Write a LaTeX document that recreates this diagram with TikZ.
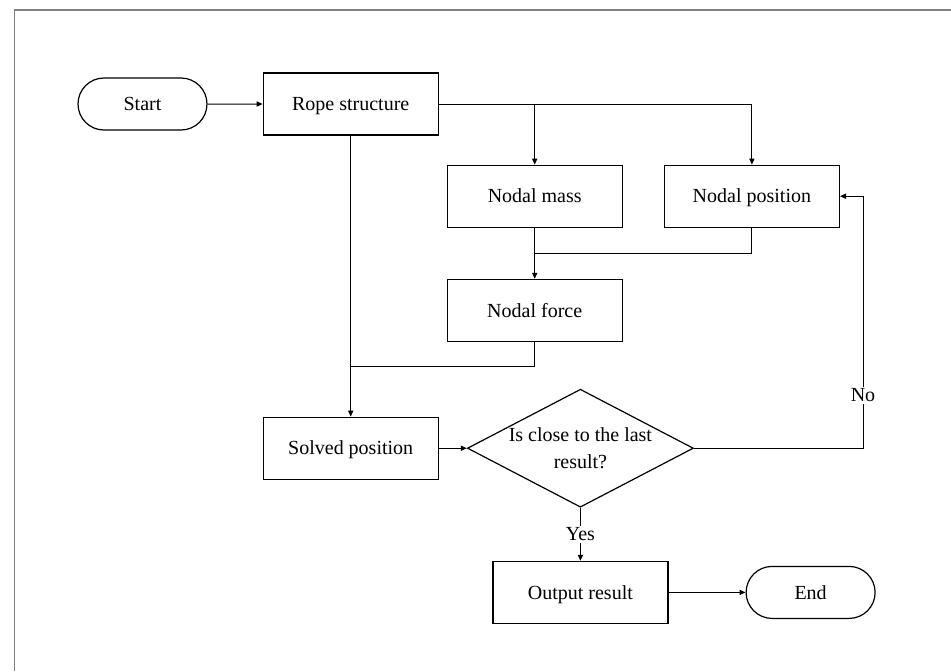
\documentclass[tikz,border=0pt]{standalone}
\usepackage{fontspec}
\setmainfont{Liberation Serif}
\usepackage{tikz}
\usetikzlibrary{arrows.meta, positioning, shapes.geometric, shapes.misc, calc}

\begin{document}
\begin{tikzpicture}[
  node distance=14pt and 20pt,
  proc/.style={draw, line width=0.6pt, minimum width=87.5pt, minimum height=31pt, inner sep=0pt, text height=8.6pt, text depth=2pt},
  term/.style={draw, line width=0.6pt, rounded rectangle, minimum width=64.5pt, minimum height=26pt, inner sep=0pt, text height=8.6pt, text depth=2pt},
  decide/.style={draw, line width=0.6pt, diamond, minimum width=113pt, minimum height=59pt, inner sep=0pt},
  flow/.style={line width=0.5pt},
  >={Triangle[length=3pt, width=2.6pt]}
]
\useasboundingbox (-71.25pt,52pt) rectangle (404.25pt,-283.5pt);
\draw[gray, line width=0.75pt] (-63.9pt,-283.5pt) |- (404.25pt,47pt);

\node[term] (start) {Start};
\node[proc, right=27.5pt of start] (rope) {Rope structure};
\node[proc, below=14.5pt of rope, xshift=92pt] (mass) {Nodal mass};
\node[proc, right=20.5pt of mass] (pos) {Nodal position};
\node[proc, below=25.5pt of mass] (force) {Nodal force};
\node[proc, below=140.5pt of rope] (solved) {Solved position};
\node[decide, right=14pt of solved,
  label={[align=center]center:Is close to the last\\[1.5pt]result?}] (check) {};
\node[proc, below=26.5pt of check] (out) {Output result};
\node[term, right=38.5pt of out] (end) {End};

\draw[flow, ->] (start) -- (rope);
\draw[flow, ->] (rope.east) -- (pos.north |- rope.east) -- (pos.north);
\draw[flow, ->] (mass.north |- rope.east) -- (mass.north);
\draw[flow, ->] (mass) -- (force);
\coordinate (join1) at ($(mass.south)!0.5!(force.north)$);
\draw[flow] (pos.south) |- (join1);
\coordinate (join2) at ($(force.south)+(0,-12pt)$);
\draw[flow] (force.south) -- (join2) -- (join2 -| rope.south);
\draw[flow, ->] (rope) -- (solved);
\draw[flow, ->] (solved) -- (check);
\coordinate (noturn) at ($(check.east)+(84.5pt,0)$);
\draw[flow, ->] (check.east) -- (noturn) -- node[pos=0.21, fill=white, inner sep=1pt]{No} (noturn |- pos.east) -- (pos.east);
\draw[flow, ->] (check.south) -- node[fill=white, inner sep=1pt]{Yes} (out.north);
\draw[flow, ->] (out) -- (end);
\end{tikzpicture}
\end{document}
